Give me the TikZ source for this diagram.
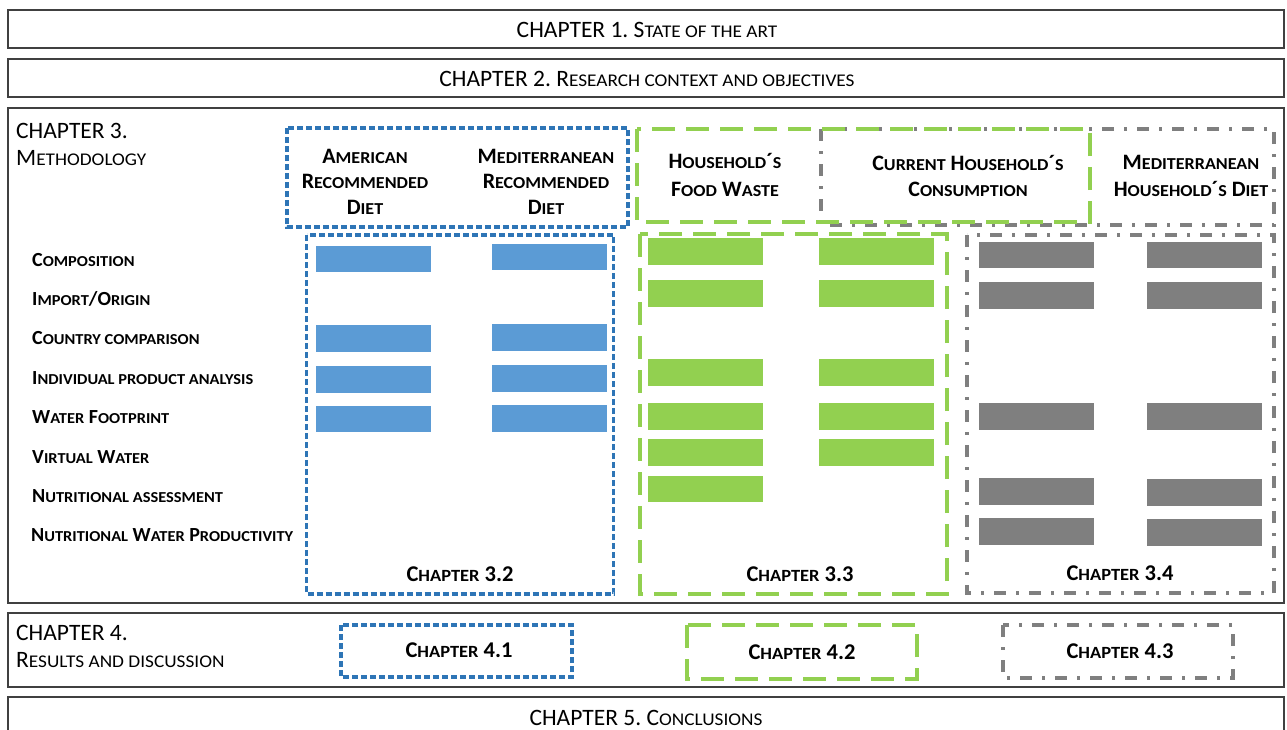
\documentclass[tikz,border=0pt]{standalone}
\usepackage{fontspec}
\setmainfont{Carlito}
\newfontfamily\scf[Scale=0.76,FakeStretch=1.08]{Carlito}
\newcommand\ssc[1]{{\scf #1}}
\frenchspacing
\definecolor{cblue}{HTML}{2E75B6}
\definecolor{fblue}{HTML}{5B9BD5}
\definecolor{cgreen}{HTML}{92D050}
\definecolor{cgray}{HTML}{7F7F7F}
\definecolor{chline}{HTML}{404040}
\tikzset{
  chframe/.style={draw=chline,line width=1.6pt},
  hdr/.style={font=\fontsize{23.5}{28}\selectfont,anchor=base,inner sep=0pt,text=black},
  lhdr/.style={hdr,anchor=base west},
  bhd/.style={font=\bfseries\fontsize{22}{26}\selectfont,anchor=base,inner sep=0pt,text=black},
  rowlab/.style={font=\bfseries\fontsize{20}{23}\selectfont,anchor=base west,inner sep=0pt,text=black},
  chp/.style={font=\bfseries\fontsize{22.5}{26}\selectfont,anchor=base,inner sep=0pt,text=black},
  bluebox/.style={draw=cblue,line width=3.2pt,dash pattern=on 6pt off 3pt},
  greenbox/.style={draw=cgreen,line width=3.2pt,dash pattern=on 23pt off 11pt},
  graybox/.style={draw=cgray,line width=3.2pt,dash pattern=on 12pt off 10pt on 3pt off 10pt},
  bluebar/.style={fill=fblue},
  greenbar/.style={fill=cgreen},
  graybar/.style={fill=cgray},
}
\newcommand\pbar[3]{\fill[#1] (#2,#3) rectangle ++(115,26.5);}
\begin{document}
\begin{tikzpicture}[x=1pt,y=-1pt]
\useasboundingbox (0,0) rectangle (1287,729);
\clip (0,0) rectangle (1287,729);
% chapter frames
\draw[chframe] (8,10) rectangle (1284,48);
\draw[chframe] (8,59) rectangle (1284,97);
\draw[chframe] (8,108) rectangle (1284,603);
\draw[chframe] (8,613) rectangle (1284,687);
\draw[chframe] (8,697) rectangle (1284,745);
% headings
\node[hdr] (t1) at (647,37) {CHAPTER 1. S\ssc{TATE OF THE ART}};
\node[hdr] (t2) at (647,86) {CHAPTER 2. R\ssc{ESEARCH CONTEXT AND OBJECTIVES}};
\node[lhdr] (t3a) at (16,138) {CHAPTER 3.};
\node[lhdr] (t3b) at (16,165) {M\ssc{ETHODOLOGY}};
\node[lhdr] (t4a) at (16,640) {CHAPTER 4.};
\node[lhdr] (t4b) at (16,667) {R\ssc{ESULTS AND DISCUSSION}};
\node[hdr] (t5) at (646,725) {CHAPTER 5. C\ssc{ONCLUSIONS}};
% dashed group boxes (chapter 3)
\draw[graybox] (821,129) rectangle (1274,225);
\draw[greenbox] (637,129) rectangle (1090,222);
\draw[bluebox] (287,128) rectangle (628,227);
\draw[bluebox] (306.5,235) rectangle (613.5,594);
\draw[greenbox] (640,234) rectangle (947,594);
\draw[graybox] (967,235) rectangle (1274,593);
% group headers
\node[bhd] (am1) at (365,163) {A\ssc{MERICAN}};
\node[bhd] (am2) at (365,188.5) {R\ssc{ECOMMENDED}};
\node[bhd] (am3) at (365,214) {D\ssc{IET}};
\node[bhd] (md1) at (546,163) {M\ssc{EDITERRANEAN}};
\node[bhd] (md2) at (546,188.5) {R\ssc{ECOMMENDED}};
\node[bhd] (md3) at (546,214) {D\ssc{IET}};
\node[bhd] (fw1) at (725,168.5) {H\ssc{OUSEHOLD}´\ssc{S}};
\node[bhd] (fw2) at (725,196) {F\ssc{OOD} W\ssc{ASTE}};
\node[bhd] (cc1) at (968,170) {C\ssc{URRENT} H\ssc{OUSEHOLD}´\ssc{S}};
\node[bhd] (cc2) at (968,196.5) {C\ssc{ONSUMPTION}};
\node[bhd] (mh1) at (1191,169) {M\ssc{EDITERRANEAN}};
\node[bhd] (mh2) at (1191,196) {H\ssc{OUSEHOLD}´\ssc{S} D\ssc{IET}};
% row labels
\node[rowlab] (r1) at (32,266.5) {C\ssc{OMPOSITION}};
\node[rowlab] (r2) at (32,305) {I\ssc{MPORT}/O\ssc{RIGIN}};
\node[rowlab] (r3) at (32,344.5) {C\ssc{OUNTRY COMPARISON}};
\node[rowlab] (r4) at (32,384) {I\ssc{NDIVIDUAL PRODUCT ANALYSIS}};
\node[rowlab] (r5) at (32,423.5) {W\ssc{ATER} F\ssc{OOTPRINT}};
\node[rowlab] (r6) at (32,463) {V\ssc{IRTUAL} W\ssc{ATER}};
\node[rowlab] (r7) at (32,502.5) {N\ssc{UTRITIONAL ASSESSMENT}};
\node[rowlab] (r8) at (31,541.5) {N\ssc{UTRITIONAL} W\ssc{ATER} P\ssc{RODUCTIVITY}};
% bars: blue
\pbar{bluebar}{316}{245.5}
\pbar{bluebar}{492}{243.5}
\pbar{bluebar}{316}{325}
\pbar{bluebar}{492}{324}
\pbar{bluebar}{316}{366}
\pbar{bluebar}{492}{365}
\pbar{bluebar}{316}{405.5}
\pbar{bluebar}{492}{405}
% bars: green
\pbar{greenbar}{648}{238}
\pbar{greenbar}{819}{238}
\pbar{greenbar}{648}{280}
\pbar{greenbar}{819}{280}
\pbar{greenbar}{648}{359}
\pbar{greenbar}{819}{359}
\pbar{greenbar}{648}{403}
\pbar{greenbar}{819}{403}
\pbar{greenbar}{648}{439}
\pbar{greenbar}{819}{439}
\pbar{greenbar}{648}{475.5}
% bars: gray
\pbar{graybar}{979}{241.5}
\pbar{graybar}{1147}{241.5}
\pbar{graybar}{979}{282}
\pbar{graybar}{1147}{282}
\pbar{graybar}{979}{403}
\pbar{graybar}{1147}{403}
\pbar{graybar}{979}{478}
\pbar{graybar}{1147}{479}
\pbar{graybar}{979}{518}
\pbar{graybar}{1147}{519}
% chapter 3.x labels
\node[chp] (c32) at (460,581) {C\ssc{HAPTER} 3.2};
\node[chp] (c33) at (800,581) {C\ssc{HAPTER} 3.3};
\node[chp] (c34) at (1120,580) {C\ssc{HAPTER} 3.4};
% chapter 4 boxes
\draw[bluebox] (341,625) rectangle (572,677);
\draw[greenbox] (687,625) rectangle (917,679);
\draw[graybox] (1003,625) rectangle (1233,678);
\node[chp] (c41) at (459,657.5) {C\ssc{HAPTER} 4.1};
\node[chp] (c42) at (802,659) {C\ssc{HAPTER} 4.2};
\node[chp] (c43) at (1120,658) {C\ssc{HAPTER} 4.3};
\end{tikzpicture}
\end{document}
